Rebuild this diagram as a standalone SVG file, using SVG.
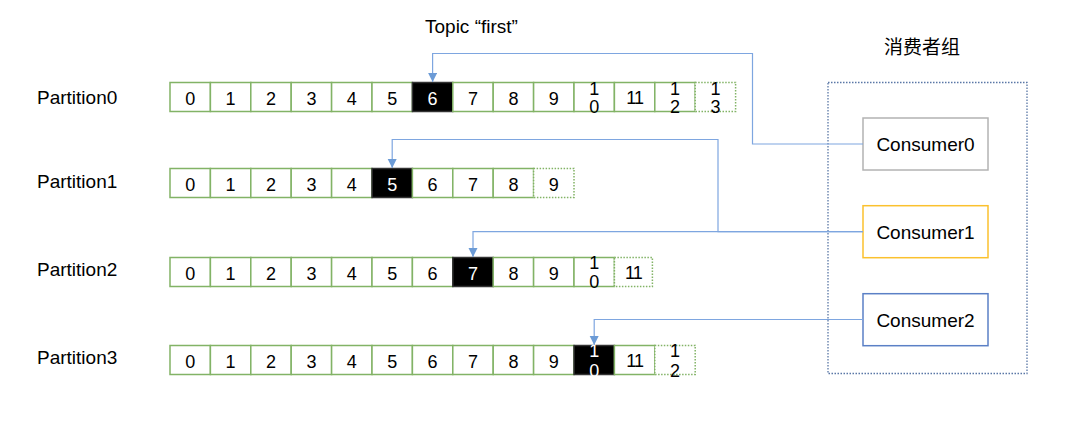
<svg xmlns="http://www.w3.org/2000/svg" width="1085" height="437" viewBox="0 0 1085 437">
<style>
.c{fill:#fff;stroke:#82b366;stroke-width:1.5}
.cd{fill:#fff;stroke:#82b366;stroke-width:1.5;stroke-dasharray:1.5 1.5}
.cb{fill:#000;stroke:#333;stroke-width:1.5}
.t{font-family:"Liberation Sans",Arial,sans-serif;font-size:18px;fill:#000;text-anchor:middle}
.tw{font-family:"Liberation Sans",Arial,sans-serif;font-size:18px;fill:#fff;text-anchor:middle}
.lbl{font-family:"Liberation Sans",Arial,sans-serif;font-size:19px;fill:#000}
.cn{font-family:"Liberation Sans",Arial,sans-serif;font-size:19px;fill:#000;text-anchor:middle}
.ln{fill:none;stroke:#7ea6e0;stroke-width:1.2}
</style>
<defs>
<marker id="ah" markerUnits="userSpaceOnUse" markerWidth="10" markerHeight="10" refX="9" refY="4.5" orient="auto">
<path d="M0,0 L9,4.5 L0,9 z" fill="#6c9bd6"/>
</marker>
</defs>
<rect width="1085" height="437" fill="#fff"/>

<text class="lbl" x="425" y="33">Topic “first”</text>
<text class="lbl" x="884" y="54" style="font-family:'Noto Sans CJK SC','Liberation Sans',sans-serif">消费者组</text>

<g id="group">
<rect x="828" y="82.5" width="199" height="291" fill="none" stroke="#5a77a6" stroke-width="1.3" stroke-dasharray="1.5 1.5"/>
</g>

<!-- Partition0 -->
<g id="partition0">
<text class="lbl" x="37" y="104">Partition0</text>
<g id="p0c0"><rect class="c" x="170" y="82.5" width="40.4" height="29"/><text class="t" x="190.2" y="105">0</text></g>
<g id="p0c1"><rect class="c" x="210.4" y="82.5" width="40.4" height="29"/><text class="t" x="230.6" y="105">1</text></g>
<g id="p0c2"><rect class="c" x="250.8" y="82.5" width="40.4" height="29"/><text class="t" x="271" y="105">2</text></g>
<g id="p0c3"><rect class="c" x="291.2" y="82.5" width="40.4" height="29"/><text class="t" x="311.4" y="105">3</text></g>
<g id="p0c4"><rect class="c" x="331.6" y="82.5" width="40.4" height="29"/><text class="t" x="351.8" y="105">4</text></g>
<g id="p0c5"><rect class="c" x="372" y="82.5" width="40.4" height="29"/><text class="t" x="392.2" y="105">5</text></g>
<g id="p0c6"><rect class="cb" x="412.4" y="82.5" width="40.4" height="29"/><text class="tw" x="432.6" y="105">6</text></g>
<g id="p0c7"><rect class="c" x="452.8" y="82.5" width="40.4" height="29"/><text class="t" x="473" y="105">7</text></g>
<g id="p0c8"><rect class="c" x="493.2" y="82.5" width="40.4" height="29"/><text class="t" x="513.4" y="105">8</text></g>
<g id="p0c9"><rect class="c" x="533.6" y="82.5" width="40.4" height="29"/><text class="t" x="553.8" y="105">9</text></g>
<g id="p0c10"><rect class="c" x="574" y="82.5" width="40.4" height="29"/><text class="t" x="594.2" y="94.5">1<tspan x="594.2" y="112.5">0</tspan></text></g>
<g id="p0c11"><rect class="c" x="614.4" y="82.5" width="40.4" height="29"/><text class="t" x="634.6" y="104" style="letter-spacing:-1px">11</text></g>
<g id="p0c12"><rect class="c" x="654.8" y="82.5" width="40.4" height="29"/><text class="t" x="675" y="94.5">1<tspan x="675" y="112.5">2</tspan></text></g>
<g id="p0c13"><rect class="cd" x="695.2" y="82.5" width="40.4" height="29"/><text class="t" x="715.4" y="94.5">1<tspan x="715.4" y="112.5">3</tspan></text></g>
</g>

<!-- Partition1 -->
<g id="partition1">
<text class="lbl" x="37" y="188">Partition1</text>
<g id="p1c0"><rect class="c" x="170" y="168.5" width="40.4" height="29"/><text class="t" x="190.2" y="191">0</text></g>
<g id="p1c1"><rect class="c" x="210.4" y="168.5" width="40.4" height="29"/><text class="t" x="230.6" y="191">1</text></g>
<g id="p1c2"><rect class="c" x="250.8" y="168.5" width="40.4" height="29"/><text class="t" x="271" y="191">2</text></g>
<g id="p1c3"><rect class="c" x="291.2" y="168.5" width="40.4" height="29"/><text class="t" x="311.4" y="191">3</text></g>
<g id="p1c4"><rect class="c" x="331.6" y="168.5" width="40.4" height="29"/><text class="t" x="351.8" y="191">4</text></g>
<g id="p1c5"><rect class="cb" x="372" y="168.5" width="40.4" height="29"/><text class="tw" x="392.2" y="191">5</text></g>
<g id="p1c6"><rect class="c" x="412.4" y="168.5" width="40.4" height="29"/><text class="t" x="432.6" y="191">6</text></g>
<g id="p1c7"><rect class="c" x="452.8" y="168.5" width="40.4" height="29"/><text class="t" x="473" y="191">7</text></g>
<g id="p1c8"><rect class="c" x="493.2" y="168.5" width="40.4" height="29"/><text class="t" x="513.4" y="191">8</text></g>
<g id="p1c9"><rect class="cd" x="533.6" y="168.5" width="40.4" height="29"/><text class="t" x="553.8" y="191">9</text></g>
</g>

<!-- Partition2 -->
<g id="partition2">
<text class="lbl" x="37" y="276">Partition2</text>
<g id="p2c0"><rect class="c" x="170" y="257.5" width="40.4" height="29"/><text class="t" x="190.2" y="280">0</text></g>
<g id="p2c1"><rect class="c" x="210.4" y="257.5" width="40.4" height="29"/><text class="t" x="230.6" y="280">1</text></g>
<g id="p2c2"><rect class="c" x="250.8" y="257.5" width="40.4" height="29"/><text class="t" x="271" y="280">2</text></g>
<g id="p2c3"><rect class="c" x="291.2" y="257.5" width="40.4" height="29"/><text class="t" x="311.4" y="280">3</text></g>
<g id="p2c4"><rect class="c" x="331.6" y="257.5" width="40.4" height="29"/><text class="t" x="351.8" y="280">4</text></g>
<g id="p2c5"><rect class="c" x="372" y="257.5" width="40.4" height="29"/><text class="t" x="392.2" y="280">5</text></g>
<g id="p2c6"><rect class="c" x="412.4" y="257.5" width="40.4" height="29"/><text class="t" x="432.6" y="280">6</text></g>
<g id="p2c7"><rect class="cb" x="452.8" y="257.5" width="40.4" height="29"/><text class="tw" x="473" y="280">7</text></g>
<g id="p2c8"><rect class="c" x="493.2" y="257.5" width="40.4" height="29"/><text class="t" x="513.4" y="280">8</text></g>
<g id="p2c9"><rect class="c" x="533.6" y="257.5" width="40.4" height="29"/><text class="t" x="553.8" y="280">9</text></g>
<g id="p2c10"><rect class="c" x="574" y="257.5" width="40.4" height="29"/><text class="t" x="594.2" y="268.5">1<tspan x="594.2" y="288">0</tspan></text></g>
<g id="p2c11"><rect class="cd" x="614.4" y="257.5" width="38" height="29"/><text class="t" x="633.4" y="279" style="letter-spacing:-1px">11</text></g>
</g>

<!-- Partition3 -->
<g id="partition3">
<text class="lbl" x="37" y="364">Partition3</text>
<g id="p3c0"><rect class="c" x="170" y="345.5" width="40.4" height="29"/><text class="t" x="190.2" y="368">0</text></g>
<g id="p3c1"><rect class="c" x="210.4" y="345.5" width="40.4" height="29"/><text class="t" x="230.6" y="368">1</text></g>
<g id="p3c2"><rect class="c" x="250.8" y="345.5" width="40.4" height="29"/><text class="t" x="271" y="368">2</text></g>
<g id="p3c3"><rect class="c" x="291.2" y="345.5" width="40.4" height="29"/><text class="t" x="311.4" y="368">3</text></g>
<g id="p3c4"><rect class="c" x="331.6" y="345.5" width="40.4" height="29"/><text class="t" x="351.8" y="368">4</text></g>
<g id="p3c5"><rect class="c" x="372" y="345.5" width="40.4" height="29"/><text class="t" x="392.2" y="368">5</text></g>
<g id="p3c6"><rect class="c" x="412.4" y="345.5" width="40.4" height="29"/><text class="t" x="432.6" y="368">6</text></g>
<g id="p3c7"><rect class="c" x="452.8" y="345.5" width="40.4" height="29"/><text class="t" x="473" y="368">7</text></g>
<g id="p3c8"><rect class="c" x="493.2" y="345.5" width="40.4" height="29"/><text class="t" x="513.4" y="368">8</text></g>
<g id="p3c9"><rect class="c" x="533.6" y="345.5" width="40.4" height="29"/><text class="t" x="553.8" y="368">9</text></g>
<g id="p3c10"><rect class="cb" x="574" y="345.5" width="40.4" height="29"/><text class="tw" x="594.2" y="356.5">1<tspan x="594.2" y="376.5">0</tspan></text></g>
<g id="p3c11"><rect class="c" x="614.4" y="345.5" width="40.4" height="29"/><text class="t" x="634.6" y="367" style="letter-spacing:-1px">11</text></g>
<g id="p3c12"><rect class="cd" x="654.8" y="345.5" width="40.4" height="29"/><text class="t" x="675" y="356.5">1<tspan x="675" y="376.5">2</tspan></text></g>
</g>

<!-- Consumers -->
<g id="consumer0"><rect x="863" y="118" width="125" height="52" fill="#fff" stroke="#b3b3b3" stroke-width="1.5"/><text class="cn" x="925.5" y="151">Consumer0</text></g>
<g id="consumer1"><rect x="863" y="205.7" width="125" height="52" fill="#fff" stroke="#fbc12e" stroke-width="1.5"/><text class="cn" x="925.5" y="238.5">Consumer1</text></g>
<g id="consumer2"><rect x="863" y="293.7" width="125" height="52" fill="#fff" stroke="#5b80c6" stroke-width="1.5"/><text class="cn" x="925.5" y="326.5">Consumer2</text></g>

<!-- Connectors -->
<g id="connectors">
<path class="ln" d="M863,144 H752.5 V53.5 H432.6 V82" marker-end="url(#ah)"/>
<path class="ln" d="M863,231.7 H718 V139.5 H392.2 V168" marker-end="url(#ah)"/>
<path class="ln" d="M863,231.7 H473 V257" marker-end="url(#ah)"/>
<path class="ln" d="M863,319.5 H594.2 V345" marker-end="url(#ah)"/>
</g>
</svg>
